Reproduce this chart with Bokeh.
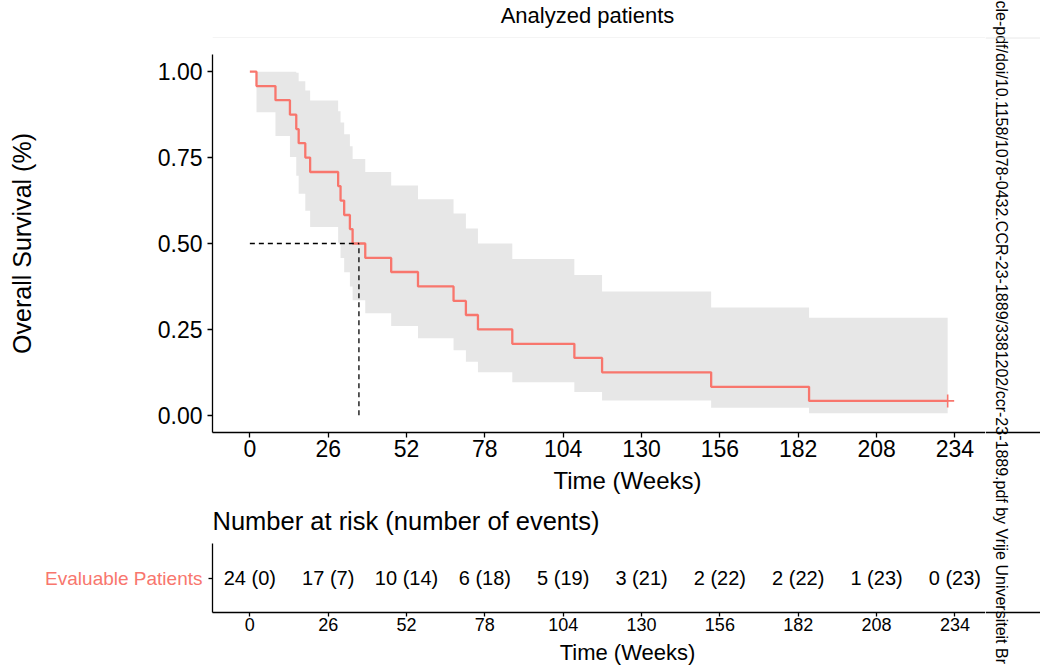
import math
from bokeh.plotting import figure
from bokeh.models import Range1d, FixedTicker, NumeralTickFormatter, Span
from bokeh.layouts import column, row
from bokeh.embed import file_html
from bokeh.resources import INLINE
from bokeh.core.properties import value

# ---------------- data ----------------
times = [0, 2.2, 8.5, 13.3, 15.4, 16.2, 18.4, 20.0, 29.3, 30.1, 31.3, 33.2, 34.1,
         38.3, 46.9, 55.8, 67.6, 71.7, 75.7, 87.1, 107.7, 116.9, 153.1, 185.6, 231.6]
surv = [1.0, 0.958, 0.917, 0.875, 0.833, 0.792, 0.750, 0.708, 0.667, 0.625, 0.583, 0.542, 0.500,
        0.458, 0.417, 0.375, 0.333, 0.292, 0.250, 0.208, 0.167, 0.125, 0.083, 0.042, 0.042]
upper = [1.0, 1.0, 1.0, 1.0, 0.997, 0.972, 0.945, 0.916, 0.885, 0.852, 0.818, 0.783, 0.746,
         0.708, 0.669, 0.629, 0.587, 0.544, 0.500, 0.455, 0.408, 0.360, 0.314, 0.284, 0.284]
lower = [1.0, 0.882, 0.813, 0.752, 0.697, 0.645, 0.595, 0.548, 0.502, 0.458, 0.416, 0.375, 0.335,
         0.297, 0.260, 0.224, 0.189, 0.156, 0.125, 0.096, 0.068, 0.043, 0.022, 0.006, 0.006]
censor_time = [231.6]
censor_surv = [0.042]
median_time = 36.2
median_surv = 0.5

time_ticks = [0, 26, 52, 78, 104, 130, 156, 182, 208, 234]
y_ticks = [0, 0.25, 0.5, 0.75, 1.0]
n_risk = [24, 17, 10, 6, 5, 3, 2, 2, 1, 0]
n_events = [0, 7, 14, 18, 19, 21, 22, 22, 23, 23]
strata = "Evaluable Patients"
risk_labels = [f"{n} ({e})" for n, e in zip(n_risk, n_events)]

title_text = "Analyzed patients"
x_title = "Time (Weeks)"
y_title = "Overall Survival (%)"
risk_title = "Number at risk (number of events)"
watermark = "cle-pdf/doi/10.1158/1078-0432.CCR-23-1889/3381202/ccr-23-1889.pdf by Vrije Universiteit Br"

# ---------------- style / layout (page pixels) ----------------
FONT = "Liberation Sans"
RED = "#F8766D"
PAGE_W, PAGE_H = 1040, 665
WM_W = 55                      # watermark strip on the right
W = PAGE_W - WM_W              # width of the plot column
FL = 212                       # frame left (all plots in the column share it)
T_H = 38                       # title strip                 0 .. 38
A_H = 427                      # KM plot                    38 .. 465
X_H = 78                       # x title + risk title      465 .. 543
B_H = 95                       # risk table                543 .. 638
C_H = PAGE_H - T_H - A_H - X_H - B_H   # risk x title      638 .. 665
A_TOP, A_BOT = 16, 33
B_TOP, B_BOT = 0, 26
PX_PER_WEEK = 3.013
X0 = -12.4
X1 = X0 + (W - FL) / PX_PER_WEEK

def style_axis(ax, tick_size, label_size):
    ax.axis_line_color = "black"
    ax.axis_line_width = 1.3
    ax.major_tick_line_color = "black"
    ax.major_tick_line_width = 1.3
    ax.minor_tick_line_color = None
    ax.minor_tick_out = 0
    ax.minor_tick_in = 0
    ax.major_tick_in = 0
    ax.major_label_text_font = FONT
    ax.major_label_text_font_size = tick_size
    ax.major_label_text_color = "black"
    ax.axis_label_text_font = FONT
    ax.axis_label_text_font_size = label_size
    ax.axis_label_text_font_style = "normal"
    ax.axis_label_text_color = "black"

def strip(height, y_top):
    # a plain drawing strip; its frame is aligned with the plots (page x FL..W)
    s = figure(width=W, height=height, x_range=Range1d(FL, W),
               y_range=Range1d(y_top + height, y_top), output_backend="svg",
               toolbar_location=None, title=None, x_axis_type=None, y_axis_type=None,
               min_border_left=FL, min_border_right=0, min_border_top=0, min_border_bottom=0)
    s.outline_line_color = None
    s.xgrid.visible = False
    s.ygrid.visible = False
    return s

def put_text(fig, x, y, txt, size, align="center"):
    # y is the vertical centre of the text
    fig.text(x=[x], y=[y], text=[txt], text_align=align, text_baseline="middle",
             text_font=value(FONT), text_font_size=size, text_color="black")

# ---------------- title strip ----------------
pT = strip(T_H, 0)
put_text(pT, 587, 14.5, title_text, "22px")
pT.add_layout(Span(location=T_H - 0.5, dimension="width", line_color="#E8E8E8", line_width=1))

# ---------------- main KM plot ----------------
pA = figure(width=W, height=A_H, x_range=Range1d(X0, X1), y_range=Range1d(-0.05, 1.05),
            output_backend="svg", toolbar_location=None, title=None,
            min_border_left=FL, min_border_right=0, min_border_top=A_TOP, min_border_bottom=A_BOT)
pA.outline_line_color = None
pA.xgrid.visible = False
pA.ygrid.visible = False

pA.varea_step(x=times, y1=lower, y2=upper, step_mode="after", fill_color="#E7E7E7")
pA.step(x=times, y=surv, mode="after", line_color=RED, line_width=2.3)
pA.line(x=[0, median_time], y=[median_surv, median_surv], line_color="black", line_width=1.3, line_dash="5 4")
pA.line(x=[median_time, median_time], y=[0, median_surv], line_color="black", line_width=1.3, line_dash="5 4")
pA.scatter(x=censor_time, y=censor_surv, marker="cross", size=13, line_color=RED, line_width=1.6)

xa = pA.xaxis[0]
xa.ticker = FixedTicker(ticks=time_ticks)
style_axis(xa, "23px", "24px")
xa.major_tick_out = 5
xa.major_label_standoff = 2

ya = pA.yaxis[0]
ya.ticker = FixedTicker(ticks=y_ticks)
ya.formatter = NumeralTickFormatter(format="0.00")
ya.axis_label = y_title
style_axis(ya, "23px", "25px")
ya.major_tick_out = 5
ya.major_label_standoff = 5
ya.axis_label_standoff = 119

# ---------------- x title + risk-table title strip ----------------
pX = strip(X_H, T_H + A_H)
put_text(pX, 627, 479.5, x_title, "24px")
put_text(pX, FL, 520.5, risk_title, "25.5px", align="left")

# ---------------- risk table ----------------
pB = figure(width=W, height=B_H, x_range=pA.x_range, y_range=Range1d(0, 1),
            output_backend="svg", toolbar_location=None, title=None,
            min_border_left=FL, min_border_right=0, min_border_top=B_TOP, min_border_bottom=B_BOT)
pB.outline_line_color = None
pB.xgrid.visible = False
pB.ygrid.visible = False

pB.text(x=time_ticks, y=0.5, text=risk_labels, text_align="center", text_baseline="middle",
        text_font=value(FONT), text_font_size="20px", text_color="black")

xb = pB.xaxis[0]
xb.ticker = FixedTicker(ticks=time_ticks)
style_axis(xb, "18px", "21px")
xb.major_tick_out = 4
xb.major_label_standoff = 1

yb = pB.yaxis[0]
yb.ticker = FixedTicker(ticks=[0.5])
yb.major_label_overrides = {0.5: strata}
style_axis(yb, "19px", "12px")
yb.major_label_text_color = RED
yb.major_tick_out = 4
yb.major_label_standoff = 6

# ---------------- risk x title strip ----------------
pC = strip(C_H, T_H + A_H + X_H + B_H)
put_text(pC, 627, 651.5, x_title, "22px")

# ---------------- watermark strip (right edge) ----------------
pW = figure(width=WM_W, height=PAGE_H, x_range=Range1d(W, PAGE_W), y_range=Range1d(PAGE_H, 0),
            output_backend="svg", toolbar_location=None, title=None, x_axis_type=None,
            y_axis_type=None, min_border=0, min_border_left=0, min_border_right=0,
            min_border_top=0, min_border_bottom=0)
pW.outline_line_color = None
pW.xgrid.visible = False
pW.ygrid.visible = False
pW.add_layout(Span(location=T_H - 0.5, dimension="width", line_color="#E8E8E8", line_width=1))
# continuation of the two x-axis lines behind the watermark
pW.add_layout(Span(location=T_H + A_H - A_BOT, dimension="width", line_color="black", line_width=1.3))
pW.add_layout(Span(location=T_H + A_H + X_H + B_H - B_BOT, dimension="width", line_color="black", line_width=1.3))
pW.text(x=[1001], y=[0], text=[watermark], angle=-math.pi / 2, text_align="left",
        text_baseline="middle", text_font=value(FONT), text_font_size="16px", text_color="black")

layout = row(column(pT, pA, pX, pB, pC, spacing=0), pW, spacing=0)
open("out.html", "w").write(file_html(layout, INLINE))
